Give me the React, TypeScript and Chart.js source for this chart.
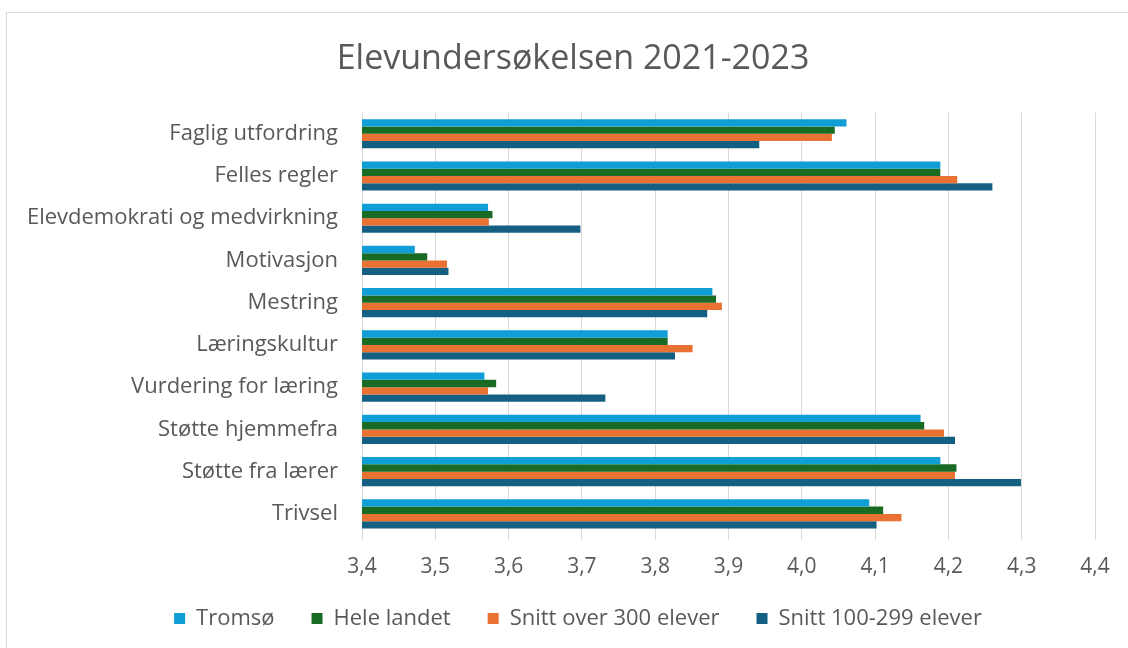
import React, { useEffect, useRef } from "react";
import { Chart, registerables } from "chart.js";

Chart.register(...registerables);

const categories = [
  "Faglig utfordring",
  "Felles regler",
  "Elevdemokrati og medvirkning",
  "Motivasjon",
  "Mestring",
  "Læringskultur",
  "Vurdering for læring",
  "Støtte hjemmefra",
  "Støtte fra lærer",
  "Trivsel",
];

const tromso = [4.061, 4.189, 3.572, 3.472, 3.878, 3.817, 3.567, 4.162, 4.189, 4.092];
const heleLandet = [4.045, 4.189, 3.578, 3.489, 3.883, 3.817, 3.583, 4.167, 4.211, 4.111];
const snittOver300 = [4.041, 4.212, 3.573, 3.516, 3.891, 3.851, 3.572, 4.194, 4.209, 4.136];
const snitt100til299 = [3.942, 4.26, 3.698, 3.518, 3.871, 3.827, 3.732, 4.209, 4.299, 4.102];

const seriesNames = ["Tromsø", "Hele landet", "Snitt over 300 elever", "Snitt 100-299 elever"];
const seriesColors = ["#0F9ED5", "#196B24", "#E97132", "#156082"];

const xMin = 3.4;
const xMax = 4.4;
const xStep = 0.1;

const FONT = "'Open Sans', Roboto, sans-serif";
const TEXT = "#595959";

const shiftPlugin = {
  id: "shiftBoxes",
  afterLayout(chart: any) {
    const t = chart.titleBlock;
    if (t) {
      t.left += 22;
      t.right += 22;
    }
    const l = chart.legend;
    if (l) {
      l.left += 27;
      l.right += 27;
      l.top -= 12.5;
      l.bottom -= 12.5;
    }
  },
};

export default function App() {
  const ref = useRef<HTMLCanvasElement | null>(null);

  useEffect(() => {
    document.body.style.margin = "0";
    const canvas = ref.current;
    if (!canvas) return;
    const seriesValues = [tromso, heleLandet, snittOver300, snitt100til299];
    const chart = new Chart(canvas, {
      type: "bar",
      data: {
        labels: categories,
        datasets: seriesValues.map((vals, i) => ({
          label: seriesNames[i],
          data: vals,
          backgroundColor: seriesColors[i],
          borderWidth: 0,
          categoryPercentage: 0.69,
          barPercentage: 1,
        })),
      },
      plugins: [shiftPlugin],
      options: {
        indexAxis: "y",
        animation: false,
        responsive: false,
        devicePixelRatio: 1,
        layout: { padding: { left: 0, right: 46, top: 0, bottom: 1 } },
        plugins: {
          title: {
            display: true,
            text: "Elevundersøkelsen 2021-2023",
            color: TEXT,
            font: { family: FONT, size: 34, weight: "normal" },
            padding: { top: 25.5, bottom: 33.3 },
          },
          legend: {
            position: "bottom",
            labels: {
              color: TEXT,
              font: { family: FONT, size: 22 },
              boxWidth: 11,
              boxHeight: 11,
              padding: 37,
            },
          },
          tooltip: { enabled: false },
        },
        scales: {
          x: {
            type: "linear",
            min: xMin,
            max: xMax,
            afterFit: (scale: any) => {
              scale.height = 48;
            },
            ticks: {
              stepSize: xStep,
              color: TEXT,
              font: { family: FONT, size: 21 },
              padding: 14,
              callback: (v: any) => Number(v).toFixed(1).replace(".", ","),
            },
            grid: { color: "#d9d9d9", lineWidth: 1, tickLength: 5, drawTicks: true },
            border: { display: false },
          },
          y: {
            type: "category",
            afterFit: (scale: any) => {
              scale.width = 355;
            },
            ticks: {
              color: TEXT,
              font: { family: FONT, size: 22 },
              padding: 24,
            },
            grid: { display: false, drawTicks: false },
            border: { display: false },
          },
        },
      },
    });
    return () => chart.destroy();
  }, []);

  return (
    <div
      style={{
        position: "fixed",
        left: 0,
        top: 0,
        width: 1128,
        height: 648,
        overflow: "hidden",
        background: "#ffffff",
      }}
    >
      <div
        style={{
          position: "absolute",
          left: 6,
          top: 12,
          width: 1134,
          height: 640,
          border: "1px solid #d9d9d9",
        }}
      >
        <canvas ref={ref} width={1134} height={640} style={{ display: "block" }} />
      </div>
    </div>
  );
}
